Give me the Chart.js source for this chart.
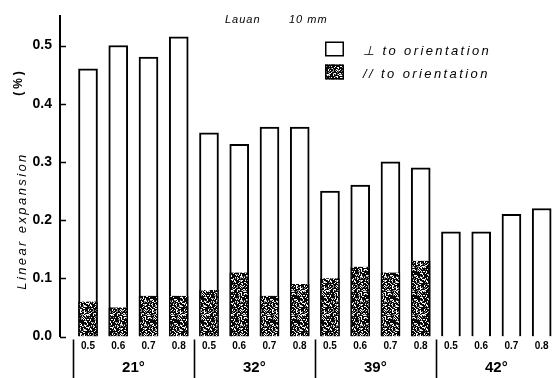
<!DOCTYPE html>
<html>
<head>
<meta charset="utf-8">
<script src="https://cdn.jsdelivr.net/npm/chart.js@4/dist/chart.umd.min.js"></script>
<style>
  html, body { margin: 0; padding: 0; background: #fff; }
  #wrap { width: 555px; height: 378px; }
</style>
</head>
<body>
<div id="wrap"><canvas id="c"></canvas></div>
<script>
// Treatment groups (angle) and the ratio sub-categories inside each group
const groups = ['21°', '32°', '39°', '42°'];
const ratios = ['0.5', '0.6', '0.7', '0.8'];

// Linear expansion (%) perpendicular and parallel to orientation
const perpendicular = [0.46, 0.50, 0.48, 0.515, 0.35, 0.33, 0.36, 0.36, 0.25, 0.26, 0.30, 0.29, 0.18, 0.18, 0.21, 0.22];
const parallel      = [0.06, 0.05, 0.07, 0.07,  0.08, 0.11, 0.07, 0.09, 0.10, 0.12, 0.11, 0.13, null, null, null, null];

const yTickValues = [0, 0.1, 0.2, 0.3, 0.4, 0.5];
const titleParts = ['Lauan', '10 mm'];
const seriesNames = ['\u22A5 to orientation', '// to orientation'];
const axisTitle = 'Linear expansion';
const unitLabel = '(%)';

const FONT = '"Liberation Sans", Arial, Helvetica, sans-serif';

// Dark stippled fill used for the parallel series
function stipple() {
  const n = 24;
  const c = document.createElement('canvas');
  c.width = n; c.height = n;
  const g = c.getContext('2d');
  g.fillStyle = '#080808';
  g.fillRect(0, 0, n, n);
  let s = 20231;
  for (let y = 0; y < n; y++) {
    for (let x = 0; x < n; x++) {
      s = (s * 1103515245 + 12345) & 0x7fffffff;
      const r = (s >> 8) % 100;
      if (r < 22) { g.fillStyle = '#ffffff'; g.fillRect(x, y, 1, 1); }
      else if (r < 36) { g.fillStyle = '#8a8a8a'; g.fillRect(x, y, 1, 1); }
    }
  }
  return g.createPattern(c, 'repeat');
}

const positions = perpendicular.map((_, i) => i);
const X_MIN = -0.926, X_MAX = 15.44;

const decorations = {
  id: 'decorations',
  afterDraw(chart) {
    const { ctx, chartArea: a, scales: { x, y } } = chart;
    ctx.save();
    ctx.strokeStyle = '#000';
    ctx.fillStyle = '#000';

    // inward tick marks on the value axis
    ctx.lineWidth = 1.5;
    y.ticks.forEach(t => {
      const py = Math.round(y.getPixelForValue(t.value)) + 0.5;
      ctx.beginPath();
      ctx.moveTo(a.left, py);
      ctx.lineTo(a.left + 6, py);
      ctx.stroke();
    });

    // separators between groups
    ctx.lineWidth = 1.6;
    groups.forEach((_, k) => {
      const px = Math.round(x.getPixelForValue(k * 4 - 0.5)) + 0.5;
      ctx.beginPath();
      ctx.moveTo(px, a.bottom + 3);
      ctx.lineTo(px, chart.height);
      ctx.stroke();
    });

    // heading
    ctx.font = 'italic 11px ' + FONT;
    ctx.letterSpacing = '1px';
    ctx.textAlign = 'left';
    ctx.textBaseline = 'middle';
    ctx.fillText(titleParts[0], 225, 20);
    ctx.fillText(titleParts[1], 289, 20);

    // legend
    const items = chart.data.datasets;
    const rows = [49, 72];
    items.forEach((ds, i) => {
      const cy = rows[i];
      ctx.fillStyle = ds.backgroundColor;
      ctx.fillRect(325, cy - 7.5, 19, 15);
      ctx.lineWidth = 1.5;
      ctx.strokeStyle = '#000';
      ctx.strokeRect(325.75, cy - 6.75, 17.5, 13.5);
      ctx.fillStyle = '#000';
      ctx.font = 'italic 13px ' + FONT;
      ctx.letterSpacing = '2.4px';
      ctx.fillText(ds.label, 363, cy + 2);
    });

    // value axis title and unit
    ctx.save();
    ctx.translate(22, 221);
    ctx.rotate(-Math.PI / 2);
    ctx.textAlign = 'center';
    ctx.font = 'italic 13px ' + FONT;
    ctx.letterSpacing = '2.4px';
    ctx.fillText(axisTitle, 0, 0);
    ctx.restore();

    ctx.save();
    ctx.translate(19, 82);
    ctx.rotate(-Math.PI / 2);
    ctx.textAlign = 'center';
    ctx.font = 'bold 12px ' + FONT;
    ctx.letterSpacing = '3px';
    ctx.fillText(unitLabel, 0, 0);
    ctx.restore();

    ctx.restore();
  }
};

const dark = stipple();

new Chart(document.getElementById('c'), {
  type: 'bar',
  data: {
    datasets: [
      {
        label: seriesNames[0],
        data: positions.map(i => ({ x: i, y: perpendicular[i] })),
        backgroundColor: '#ffffff',
        borderColor: '#000000',
        borderWidth: 2,
        order: 1,
        xAxisID: 'x'
      },
      {
        label: seriesNames[1],
        data: positions.map(i => ({ x: i, y: parallel[i] })),
        backgroundColor: dark,
        borderColor: '#000000',
        borderWidth: { left: 1.5, right: 1.5, top: 0, bottom: 0 },
        order: 0,
        xAxisID: 'x'
      }
    ]
  },
  options: {
    responsive: true,
    maintainAspectRatio: false,
    animation: false,
    devicePixelRatio: 1,
    layout: { padding: { top: 12, right: 0, left: 0, bottom: 0 } },
    datasets: { bar: { grouped: false, barThickness: 19 } },
    plugins: { legend: { display: false }, tooltip: { enabled: false }, title: { display: false } },
    scales: {
      x: {
        type: 'linear',
        position: 'bottom',
        offset: false,
        min: X_MIN, max: X_MAX,
        weight: 0,
        grid: { display: false, drawTicks: false, offset: false },
        border: { display: false },
        afterBuildTicks: s => { s.ticks = positions.map(v => ({ value: v })); },
        afterFit: s => { s.height = 20; },
        ticks: {
          autoSkip: false, maxRotation: 0, padding: 4, color: '#000',
          font: { family: FONT, size: 10, weight: 'bold' },
          callback: v => ratios[Math.round(v) % ratios.length]
        }
      },
      g: {
        type: 'linear',
        axis: 'x',
        position: 'bottom',
        offset: false,
        min: X_MIN, max: X_MAX,
        weight: 1,
        grid: { display: false, drawTicks: false, offset: false },
        border: { display: false },
        afterBuildTicks: s => { s.ticks = groups.map((_, k) => ({ value: k * 4 + 1.5 })); },
        afterFit: s => { s.height = 21.5; },
        ticks: {
          autoSkip: false, maxRotation: 0, padding: 2, color: '#000',
          font: { family: FONT, size: 15, weight: 'bold' },
          callback: v => groups[Math.round((v - 1.5) / 4)]
        }
      },
      y: {
        type: 'linear',
        position: 'left',
        min: 0, max: 0.55,
        grid: { display: false, drawTicks: false },
        border: { display: true, color: '#000', width: 2 },
        afterBuildTicks: s => { s.ticks = yTickValues.map(v => ({ value: v })); },
        afterFit: s => { s.width = 60; },
        ticks: {
          padding: 8, color: '#000',
          font: { family: FONT, size: 14, weight: 'bold' },
          callback: v => v.toFixed(1)
        }
      }
    }
  },
  plugins: [decorations]
});
</script>
</body>
</html>
